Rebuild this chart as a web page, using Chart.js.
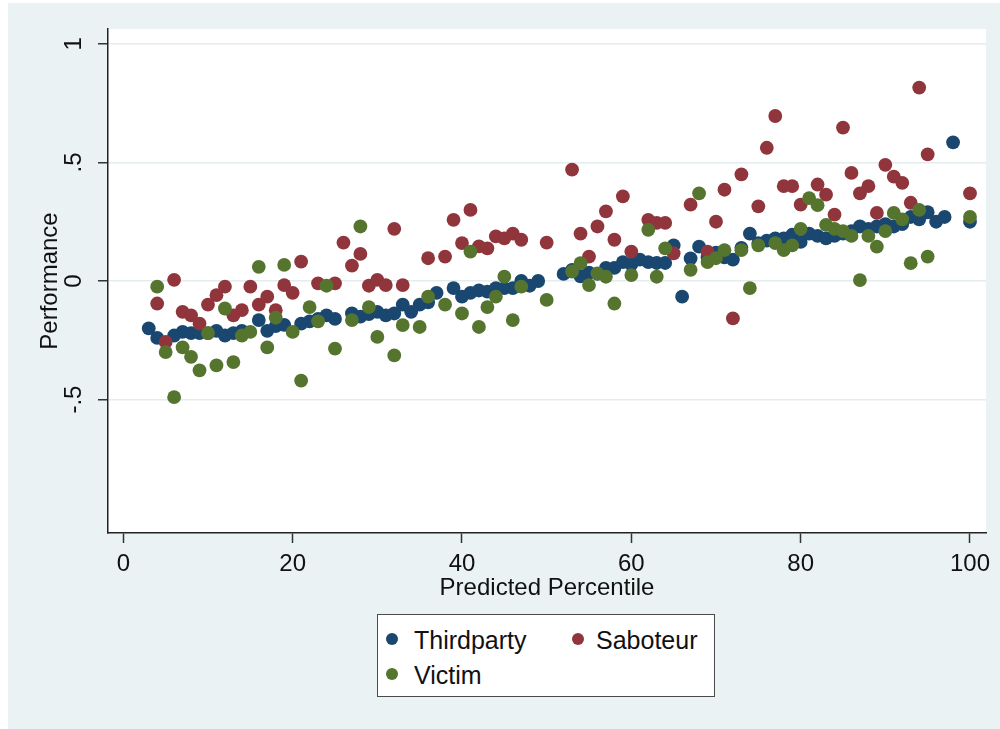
<!DOCTYPE html>
<html>
<head>
<meta charset="utf-8">
<script src="https://cdn.jsdelivr.net/npm/chart.js@4.4.1/dist/chart.umd.min.js"></script>
<style>
  body { margin: 0; background: #ffffff; font-family: "Liberation Sans", Arial, sans-serif; }
  #wrap { position: absolute; left: 8px; top: 3px; width: 992px; height: 726px; background: #eaf2f3; }
  #legend { position: absolute; left: 369px; top: 611px; width: 336px; height: 81px;
            background: #fff; border: 1.5px solid #4a4a4a; }
  .item { position: absolute; font-size: 25px; color: #111; line-height: 25px; }
  .dot { position: absolute; width: 12px; height: 12px; border-radius: 50%; }
</style>
</head>
<body>
<div id="wrap">
  <canvas id="perfChart" width="992" height="726"></canvas>
  <div id="legend"></div>
</div>
<script>
// values
const thirdX = [3,4,6,7,8,9,10,11,12,13,14,16,17,18,19,21,22,23,24,25,27,28,29,30,31,32,33,34,35,36,37,39,40,41,42,43,44,45,46,47,48,49,52,53,54,55,56,57,58,59,60,61,62,63,64,65,66,67,68,69,70,71,72,73,74,75,76,77,78,79,80,81,82,83,84,85,86,87,88,89,90,91,92,93,94,95,96,97,98,100];
const thirdY = [-0.20,-0.24,-0.23,-0.215,-0.22,-0.22,-0.22,-0.21,-0.23,-0.22,-0.21,-0.165,-0.21,-0.19,-0.185,-0.18,-0.17,-0.16,-0.145,-0.16,-0.137,-0.15,-0.14,-0.13,-0.145,-0.137,-0.10,-0.13,-0.10,-0.09,-0.05,-0.03,-0.066,-0.05,-0.04,-0.045,-0.03,-0.03,-0.03,0.00,-0.02,0.00,0.03,0.047,0.02,0.035,0.03,0.055,0.055,0.08,0.07,0.09,0.08,0.076,0.076,0.15,-0.066,0.095,0.145,0.10,0.12,0.10,0.09,0.14,0.20,0.16,0.17,0.18,0.18,0.195,0.165,0.20,0.19,0.18,0.19,0.20,0.21,0.23,0.22,0.23,0.24,0.23,0.24,0.27,0.26,0.29,0.25,0.27,0.585,0.25];

const sabX = [4,5,6,7,8,9,10,11,12,13,14,15,16,17,18,19,20,21,23,25,26,27,28,29,30,31,32,33,36,38,39,40,41,42,43,44,45,46,47,50,53,54,55,56,57,58,59,60,62,63,64,65,67,69,70,71,72,73,75,76,77,78,79,80,82,83,84,85,86,87,88,89,90,91,92,93,94,95,100];
const sabY = [-0.095,-0.257,0.005,-0.13,-0.145,-0.18,-0.10,-0.06,-0.024,-0.145,-0.123,-0.024,-0.10,-0.066,-0.123,-0.017,-0.05,0.082,-0.01,-0.01,0.162,0.065,0.114,-0.02,0.005,-0.017,0.22,-0.017,0.096,0.103,0.258,0.16,0.30,0.146,0.138,0.188,0.18,0.20,0.174,0.162,0.47,0.20,0.103,0.23,0.294,0.174,0.357,0.124,0.258,0.245,0.245,0.117,0.322,0.124,0.25,0.385,-0.158,0.45,0.315,0.562,0.696,0.40,0.40,0.322,0.407,0.364,0.28,0.647,0.456,0.37,0.40,0.287,0.49,0.44,0.414,0.33,0.816,0.534,0.37];

const vicX = [4,5,6,7,8,9,10,11,12,13,14,15,16,17,18,19,20,21,22,23,24,25,27,28,29,30,32,33,35,36,38,40,41,42,43,44,45,46,47,50,53,54,55,56,57,58,60,62,63,64,67,68,69,70,71,73,74,75,77,78,79,80,81,82,83,84,85,86,87,88,89,90,91,92,93,94,95,100];
const vicY = [-0.024,-0.30,-0.49,-0.28,-0.32,-0.377,-0.22,-0.356,-0.116,-0.342,-0.23,-0.215,0.06,-0.28,-0.155,0.068,-0.215,-0.42,-0.11,-0.17,-0.02,-0.285,-0.165,0.23,-0.11,-0.236,-0.314,-0.186,-0.194,-0.066,-0.10,-0.137,0.124,-0.194,-0.11,-0.066,0.018,-0.165,-0.024,-0.08,0.04,0.075,-0.017,0.032,0.018,-0.095,0.025,0.216,0.018,0.138,0.047,0.37,0.08,0.096,0.13,0.13,-0.03,0.15,0.16,0.13,0.15,0.22,0.35,0.32,0.237,0.22,0.21,0.19,0.004,0.19,0.145,0.21,0.287,0.26,0.075,0.30,0.103,0.27];

const xTicks = [0, 20, 40, 60, 80, 100];
const yTicks = [-0.5, 0, 0.5, 1];

const seriesNames = ["Thirdparty", "Saboteur", "Victim"];
const seriesColors = ["#1a476f", "#90353b", "#55752f"];

function pairs(xs, ys) {
    return xs.map((x, i) => ({ x: x, y: ys[i] }));
}

function fmtY(v) {
    if (v === 0) return "0";
    return String(v).replace("0.", ".");
}

const plotBg = {
    id: "plotBg",
    beforeDraw(chart) {
        const a = chart.chartArea;
        const c = chart.ctx;
        c.save();
        c.fillStyle = "#ffffff";
        c.fillRect(a.left, a.top, a.right - a.left, a.bottom - a.top);
        c.restore();
    }
};

const allData = [pairs(thirdX, thirdY), pairs(sabX, sabY), pairs(vicX, vicY)];
const datasets = allData.map((d, i) => ({
    label: seriesNames[i],
    data: d,
    backgroundColor: seriesColors[i],
    borderWidth: 0,
    pointRadius: 6.9,
    pointHoverRadius: 6.9,
    order: 3 - i
}));

const ctx = document.getElementById("perfChart").getContext("2d");

new Chart(ctx, {
    type: "scatter",
    data: { datasets },
    plugins: [plotBg],
    options: {
        responsive: false,
        animation: false,
        layout: { padding: { left: 0, top: 26, right: 14, bottom: 126 } },
        plugins: { legend: { display: false }, tooltip: { enabled: false } },
        scales: {
            x: {
                min: -1.81,
                max: 101.89,
                afterBuildTicks: s => { s.ticks = xTicks.map(v => ({ value: v })); },
                afterFit: s => { s.height = 70; },
                border: { color: "#222", width: 1.5 },
                grid: { drawOnChartArea: false, drawTicks: true, tickLength: 10, tickColor: "#333", tickWidth: 1.5 },
                ticks: { color: "#111", font: { family: "Liberation Sans", size: 24 }, padding: 7, maxRotation: 0 },
                title: { display: true, text: "Predicted Percentile", color: "#111",
                         font: { family: "Liberation Sans", size: 24 }, padding: { top: 0, bottom: 0 } }
            },
            y: {
                min: -1.063,
                max: 1.063,
                afterBuildTicks: s => { s.ticks = yTicks.map(v => ({ value: v })); },
                afterFit: s => { s.width = 100; },
                border: { color: "#222", width: 1.5 },
                grid: { color: "#e4ecee", lineWidth: 1.5, drawTicks: true, tickLength: 10, tickColor: "#333", tickWidth: 1.5 },
                ticks: { color: "#111", font: { family: "Liberation Sans", size: 24 }, padding: 10,
                         minRotation: 90, maxRotation: 90, crossAlign: "center",
                         callback: v => fmtY(v) },
                title: { display: true, text: "Performance", color: "#111",
                         font: { family: "Liberation Sans", size: 24 }, padding: { top: 28, bottom: 0 } }
            }
        }
    }
});

// legend box like the Stata one
const legend = document.getElementById("legend");
const spots = [[8, 18, 36, 13], [194, 18, 218, 13], [8, 53, 36, 48]];
seriesNames.forEach((name, i) => {
    const [dx, dy, tx, ty] = spots[i];
    const dot = document.createElement("div");
    dot.className = "dot";
    dot.style.left = dx + "px";
    dot.style.top = dy + "px";
    dot.style.background = seriesColors[i];
    legend.appendChild(dot);
    const t = document.createElement("div");
    t.className = "item";
    t.style.left = tx + "px";
    t.style.top = ty + "px";
    t.textContent = name;
    legend.appendChild(t);
});
</script>
</body>
</html>
